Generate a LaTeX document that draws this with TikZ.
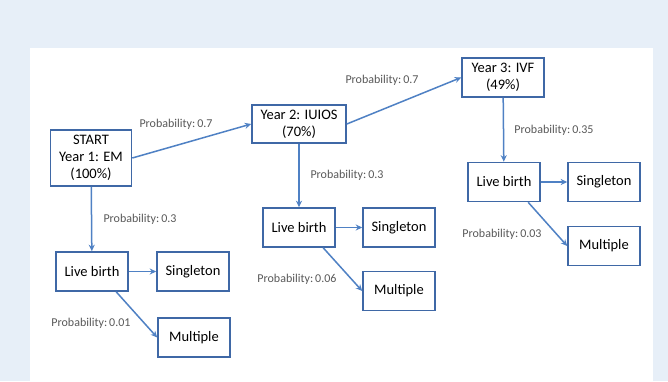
\documentclass[tikz,border=0pt]{standalone}
\usepackage{fontspec}
\setmainfont{Carlito}
\usetikzlibrary{arrows.meta,positioning}
\definecolor{boxblue}{HTML}{3F68A6}
\definecolor{arrblue}{HTML}{4F81C4}
\definecolor{bgblue}{HTML}{E7EFF8}
\definecolor{lblgray}{HTML}{595959}

\begin{document}
\begin{tikzpicture}[x=1pt, y=-1pt,
  box/.style={draw=boxblue, line width=1.6pt, fill=white,
              minimum width=72pt, minimum height=39pt, inner sep=1pt,
              align=center, font=\fontsize{14.5}{17}\selectfont},
  lbl/.style={font=\fontsize{12}{14}\selectfont, text=lblgray, inner sep=0pt},
  arr/.style={-{Stealth[length=6.5pt,width=6pt]}, arrblue, line width=1.5pt}
]
% Background
\fill[bgblue] (0,0) rectangle (668,381);
\fill[white] (30,48) rectangle (653,381);
\useasboundingbox (0,0) rectangle (668,381);
% Treatment years
\node[box, minimum width=81pt, minimum height=56pt] (start) at (91,158) {
  START\\Year 1: EM\\(100\%)};
\node[box, minimum width=94pt, minimum height=38pt] (yr2) at (299,124) {
  Year 2: IUIOS\\(70\%)};
\node[box, minimum width=82pt] (yr3) at (503,77.5) {
  Year 3: IVF\\(49\%)};
% Outcomes
\node[box] (lb1) at (92,271.5) {Live birth};
\node[box] (sg1) at (193,271.5) {Singleton};
\node[box] (mu1) at (194,337.5) {Multiple};
\node[box] (lb2) at (299,227.5) {Live birth};
\node[box] (sg2) at (399,227.5) {Singleton};
\node[box] (mu2) at (399,291) {Multiple};
\node[box] (lb3) at (504,182) {Live birth};
\node[box] (sg3) at (604,182) {Singleton};
\node[box] (mu3) at (604,246) {Multiple};
% Arrows
\draw[arr] (start.east) -- (yr2.west);
\draw[arr] (yr2.east) -- (yr3.west);
\draw[arr] (start) -- (lb1);
\draw[arr] (yr2) -- (lb2);
\draw[arr] (yr3) -- (lb3);
\draw[arr] (lb1) -- (sg1);
\draw[arr] (lb2) -- (sg2);
\draw[arr] (lb3) -- (sg3);
\draw[arr] (lb1.-40) -- (mu1.west);
\draw[arr] (lb2.-40) -- (mu2.west);
\draw[arr] (lb3.-40) -- (mu3.west);
% Probabilities
\node[lbl] (p12) at (176,124) {Probability:\,0.7};
\node[lbl] (p23) at (382,80) {Probability:\,0.7};
\node[lbl] (p1) at (140,219) {Probability:\,0.3};
\node[lbl] (p2) at (347,175) {Probability:\,0.3};
\node[lbl] (p3) at (554,130) {Probability:\,0.35};
\node[lbl] (m1) at (91,323) {Probability:\,0.01};
\node[lbl] (m2) at (297,279) {Probability:\,0.06};
\node[lbl] (m3) at (502,234) {Probability:\,0.03};
\end{tikzpicture}
\end{document}
